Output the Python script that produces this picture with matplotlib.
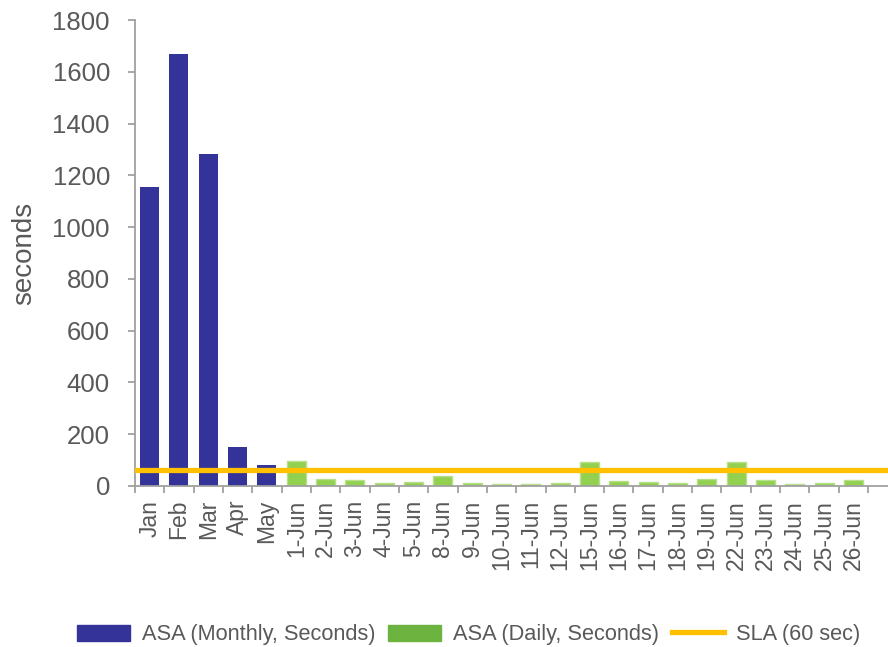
import numpy as np
import matplotlib
matplotlib.use("Agg")
import matplotlib.pyplot as plt
from matplotlib.patches import Patch
from matplotlib.lines import Line2D

plt.rcParams['font.family'] = ['Liberation Sans', 'DejaVu Sans']

months = ["Jan", "Feb", "Mar", "Apr", "May"]
monthly = [1155, 1669, 1282, 151, 81]
days = ["1-Jun", "2-Jun", "3-Jun", "4-Jun", "5-Jun", "8-Jun", "9-Jun", "10-Jun",
        "11-Jun", "12-Jun", "15-Jun", "16-Jun", "17-Jun", "18-Jun", "19-Jun",
        "22-Jun", "23-Jun", "24-Jun", "25-Jun", "26-Jun"]
daily = [97, 26, 23, 12, 15, 37, 11, 8, 9, 13, 92, 17, 15, 13, 26, 92, 23, 8, 11, 23]
sla = 60

grey = "#595959"
axc = "#A0A0A0"
fig = plt.figure(figsize=(8.88, 6.47), dpi=100)
ax = fig.add_axes([0.152, 0.249, 0.848, 0.72])

xm = np.arange(len(months))
xd = np.arange(len(days)) + len(months)
ax.bar(xm, monthly, width=0.65, color="#333399")
ax.bar(xd, daily, width=0.65, color="#92D050", edgecolor="#B8E08C", linewidth=1)
ax.axhline(sla, color="#FFC000", linewidth=3.8, zorder=3)

ax.set_xlim(-0.5, 25.18)
ax.set_ylim(0, 1800)
ax.set_yticks(range(0, 1801, 200))
ax.set_xticks(np.arange(25))
ax.set_xticklabels(months + days, rotation=90)
ax.set_xticks(np.arange(26) - 0.5, minor=True)
ax.tick_params(axis="x", which="major", length=0, pad=10, labelsize=16.5, labelcolor=grey)
ax.tick_params(axis="x", which="minor", length=5, width=1.3, color=axc)
ax.tick_params(axis="y", length=5, width=1.3, color=axc, labelsize=18.5, labelcolor=grey, pad=13)
for s in ["top", "right"]:
    ax.spines[s].set_visible(False)
for s in ["left", "bottom"]:
    ax.spines[s].set_color(axc)
    ax.spines[s].set_linewidth(1.3)
ax.set_ylabel("seconds", fontsize=20, color=grey, labelpad=11)

handles = [Patch(color="#333399"), Patch(color="#6DB33F"),
           Line2D([], [], color="#FFC000", linewidth=3.8)]
fig.legend(handles, ["ASA (Monthly, Seconds)", "ASA (Daily, Seconds)", "SLA (60 sec)"],
           loc="center", bbox_to_anchor=(0.528, 0.019), ncol=3, frameon=False,
           fontsize=15.7, labelcolor=grey, handlelength=2.4, handleheight=0.75,
           columnspacing=0.6, handletextpad=0.55, borderpad=0)

fig.savefig("out.png", dpi=100)
